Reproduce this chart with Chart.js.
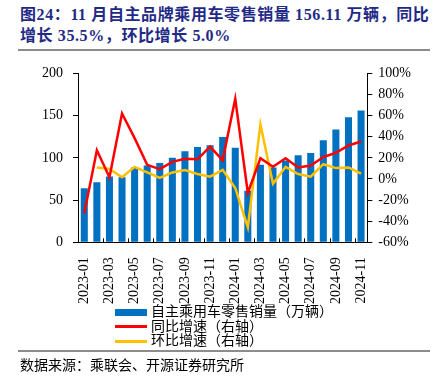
<!DOCTYPE html>
<html>
<head>
<meta charset="utf-8">
<script src="https://cdn.jsdelivr.net/npm/chart.js@4.4.1/dist/chart.umd.min.js"></script>
<style>
  body { margin: 0; width: 435px; height: 385px; background: #fff; position: relative; overflow: hidden;
         font-family: "Liberation Serif", "Noto Sans CJK SC", serif; }
  #title { position: absolute; left: 20px; top: 4px; font-size: 16px; font-weight: bold; white-space: nowrap;
           color: #1f2a86; line-height: 21px; letter-spacing: 0.6px; }
  .rule { position: absolute; left: 18px; width: 412px; height: 2px; background: #8c8c8c; }
  #wrap { position: absolute; left: 0; top: 55px; width: 435px; height: 256px; }
  #legend { position: absolute; left: 115px; top: 305px; font-size: 14px; line-height: 14.5px; color: #000; }
  #legend div { display: flex; align-items: center; white-space: nowrap; }
  #legend span.sw { display: inline-block; width: 32px; margin-right: 4px; }
  #source { position: absolute; left: 20px; top: 354px; font-size: 14px; color: #000; }
</style>
</head>
<body>
<div id="title">图24：11 月自主品牌乘用车零售销量 156.11 万辆，同比<br>增长 35.5%，环比增长 5.0%</div>
<div class="rule" style="top:49px"></div>
<div id="wrap"><canvas id="myChart" width="435" height="256"></canvas></div>
<div id="legend"></div>
<div class="rule" style="top:350px"></div>
<div id="source">数据来源：乘联会、开源证券研究所</div>
<script>
// categories
const months = ['2023-01', '2023-02', '2023-03', '2023-04', '2023-05', '2023-06', '2023-07', '2023-08',
  '2023-09', '2023-10', '2023-11', '2023-12', '2024-01', '2024-02', '2024-03', '2024-04', '2024-05',
  '2024-06', '2024-07', '2024-08', '2024-09', '2024-10', '2024-11'];

// 自主乘用车零售销量（万辆）
const sales = [64, 71, 78, 77, 88.5, 91, 94, 100, 107.7, 113, 115, 124.7, 112, 61, 92, 88.5, 97, 103,
  105.8, 120.8, 133.5, 148, 156.11];
// 同比增速 %
const yoy = [-32.4, 27.3, 1.6, 62, 38.7, 13.4, 9.4, 16.2, 19.2, 18.6, 30.7, 17.7, 76, -13.2, 19.6, 11.5,
  19.6, 10.9, 12.7, 20.8, 24.8, 31.7, 35.5];
// 环比增速 %
const mom = [null, 10.9, 9.4, 1.6, 11.5, 6.2, 1, 6.2, 8.4, 4.7, 2.2, 8.7, -8.5, -45.8, 51.7, -4.6, 11.5,
  4.7, 2.2, 14, 10.3, 10.9, 5.0];

const leftTicks = [0, 50, 100, 150, 200];
const rightTicks = [-60, -40, -20, 0, 20, 40, 60, 80, 100];

const tickFont = { family: 'Liberation Serif', size: 14 };

// small inward ticks on the x axis, every second category boundary
const innerTicks = {
  id: 'innerTicks',
  afterDatasetsDraw(chart) {
    const x = chart.scales.x;
    const c = chart.ctx;
    const bottom = chart.chartArea.bottom;
    c.save();
    c.strokeStyle = '#000';
    c.lineWidth = 1;
    for (let i = 2; i < months.length; i += 2) {
      const px = Math.round((x.getPixelForValue(i - 1) + x.getPixelForValue(i)) / 2) + 0.5;
      c.beginPath();
      c.moveTo(px, bottom);
      c.lineTo(px, bottom - 4);
      c.stroke();
    }
    c.restore();
  }
};

const ctx = document.getElementById('myChart').getContext('2d');
const myChart = new Chart(ctx, {
  type: 'bar',
  data: {
    labels: months,
    datasets: [
      {
        type: 'line', label: '同比增速（右轴）', data: yoy, yAxisID: 'y1',
        borderColor: '#ff0000', backgroundColor: '#ff0000', borderWidth: 2.5,
        pointRadius: 0, tension: 0, order: 0
      },
      {
        type: 'line', label: '环比增速（右轴）', data: mom, yAxisID: 'y1',
        borderColor: '#ffc000', backgroundColor: '#ffc000', borderWidth: 2.5,
        pointRadius: 0, tension: 0, order: 1
      },
      {
        label: '自主乘用车零售销量（万辆）', data: sales, yAxisID: 'y',
        backgroundColor: '#0070c0', barPercentage: 0.56, categoryPercentage: 1, order: 2
      }
    ]
  },
  options: {
    responsive: false,
    animation: false,
    layout: { padding: { left: 32, right: 18, top: 5, bottom: 0 } },
    plugins: { legend: { display: false }, tooltip: { enabled: false } },
    scales: {
      x: {
        grid: { display: false },
        border: { display: true, color: '#000', width: 1 },
        ticks: {
          font: tickFont, color: '#000', autoSkip: false, maxRotation: 90, minRotation: 90, padding: 7,
          callback: (v, i) => (i % 2 === 0 ? months[i] : '')
        }
      },
      y: {
        position: 'left', min: 0, max: 200,
        afterBuildTicks: (s) => { s.ticks = leftTicks.map((v) => ({ value: v })); },
        grid: { drawOnChartArea: false, tickLength: 5, color: '#000' },
        border: { display: true, color: '#000', width: 1 },
        ticks: { font: tickFont, color: '#000', padding: 10 }
      },
      y1: {
        position: 'right', min: -60, max: 100,
        afterBuildTicks: (s) => { s.ticks = rightTicks.map((v) => ({ value: v })); },
        grid: { drawOnChartArea: false, tickLength: 5, color: '#000' },
        border: { display: true, color: '#000', width: 1 },
        ticks: { font: tickFont, color: '#000', padding: 6, callback: (v) => v + '%' }
      }
    }
  },
  plugins: [innerTicks]
});

// legend built from the chart's datasets, bar first as in the source
const legendEl = document.getElementById('legend');
[2, 0, 1].forEach((i) => {
  const ds = myChart.data.datasets[i];
  const row = document.createElement('div');
  const sw = document.createElement('span');
  sw.className = 'sw';
  sw.style.height = ds.type === 'line' ? '3px' : '7px';
  sw.style.background = ds.type === 'line' ? ds.borderColor : ds.backgroundColor;
  row.appendChild(sw);
  row.appendChild(document.createTextNode(ds.label));
  legendEl.appendChild(row);
});
</script>
</body>
</html>
